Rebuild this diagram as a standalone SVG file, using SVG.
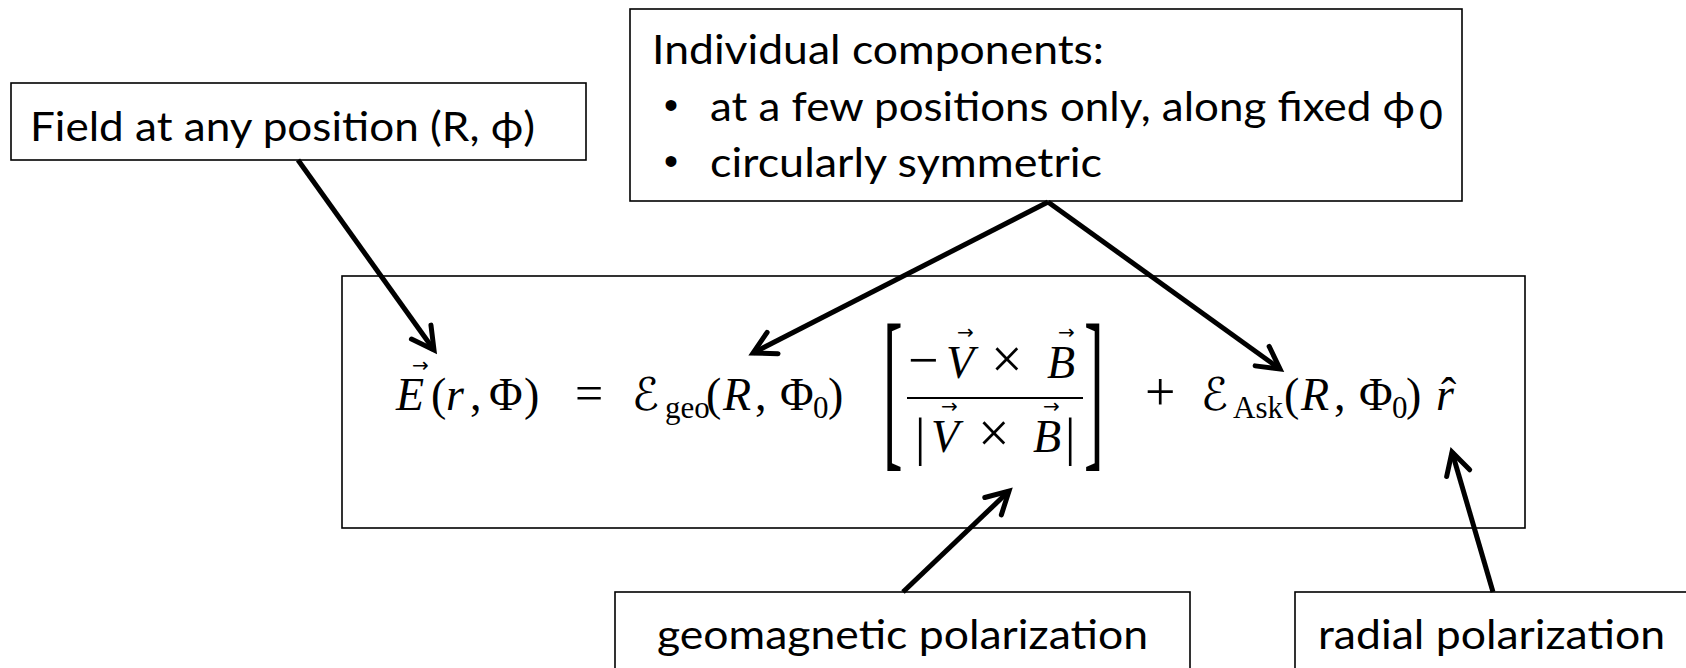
<svg xmlns="http://www.w3.org/2000/svg" width="1686" height="668" viewBox="0 0 1686 668">
<defs>
<marker id="ah" markerUnits="userSpaceOnUse" markerWidth="40" markerHeight="40" viewBox="-30 -20 40 40" refX="0" refY="0" orient="auto">
<path d="M -22 -12 L 0 0 L -22 12" fill="none" stroke="#000" stroke-width="5" stroke-linecap="round" stroke-linejoin="miter"/>
</marker>
<style>
.box{fill:#fff;stroke:#000;stroke-width:1.6}
.lbl{font-family:Lato,"Open Sans","Liberation Sans",sans-serif;font-size:41px;fill:#000}
.bul{font-family:"Liberation Sans",sans-serif;font-size:40px;fill:#000}
.m{font-family:"Liberation Serif","DejaVu Serif",serif;font-size:46px;fill:#000}
.i{font-style:italic}
.sub{font-size:31px}
.cal{font-family:"DejaVu Serif","DejaVu Sans",serif;font-size:45px;font-style:italic;fill:#000}
.vec{font-family:"DejaVu Sans",sans-serif;font-size:20px;fill:#000}
.arr{fill:none;stroke:#000;stroke-width:5;marker-end:url(#ah)}
</style>
</defs>
<rect width="1686" height="668" fill="#fff"/>

<g id="field-box">
<rect class="box" x="11" y="83" width="575" height="77"/>
<text class="lbl" x="30" y="141" textLength="505" lengthAdjust="spacingAndGlyphs">Field at any position (R, ϕ)</text>
</g>

<g id="components-box">
<rect class="box" x="630" y="9" width="832" height="192"/>
<text class="lbl" x="652" y="64" textLength="452" lengthAdjust="spacingAndGlyphs">Individual components:</text>
<text class="bul" x="664" y="119">•</text>
<text class="lbl" x="710" y="121" textLength="705" lengthAdjust="spacingAndGlyphs">at a few positions only, along fixed ϕ</text>
<text class="lbl" x="1419" y="129" font-size="25">0</text>
<text class="bul" x="664" y="175">•</text>
<text class="lbl" x="710" y="177" textLength="392" lengthAdjust="spacingAndGlyphs">circularly symmetric</text>
</g>

<g id="equation-box">
<rect class="box" x="342" y="276" width="1183" height="252"/>
<g class="m">
<text x="396" y="410" class="i">E</text>
<text class="vec" x="412" y="372">→</text>
<text x="431" y="410">(</text>
<text x="446" y="410" class="i">r</text>
<text x="470" y="410">,</text>
<text x="489" y="410">Φ</text>
<text x="524" y="410">)</text>
<text x="575" y="410" font-size="50">=</text>
<text class="cal" x="632" y="410">ℰ</text>
<text x="665" y="418" class="sub">geo</text>
<text x="706" y="410">(</text>
<text x="723" y="410" class="i">R</text>
<text x="755" y="410">,</text>
<text x="780" y="410">Φ</text>
<text x="813" y="418" class="sub">0</text>
<text x="828" y="410">)</text>
<text transform="translate(883,447) scale(1,3)" font-size="59">[</text>
<text x="908" y="378" font-size="54">−</text>
<text x="946" y="378" class="i">V</text>
<text class="vec" x="957" y="339">→</text>
<text x="991" y="378" font-size="56">×</text>
<text x="1047" y="378" class="i">B</text>
<text class="vec" x="1058" y="339">→</text>
<line x1="907" y1="398" x2="1083" y2="398" stroke="#000" stroke-width="2"/>
<text x="915" y="455" font-size="52">|</text>
<text x="931" y="452" class="i">V</text>
<text class="vec" x="941" y="413">→</text>
<text x="978" y="452" font-size="56">×</text>
<text x="1033" y="452" class="i">B</text>
<text class="vec" x="1043" y="413">→</text>
<text x="1065" y="455" font-size="52">|</text>
<text transform="translate(1084,447) scale(1,3)" font-size="59">]</text>
<text x="1145" y="410" font-size="54">+</text>
<text class="cal" x="1201" y="410">ℰ</text>
<text x="1233" y="418" class="sub">Ask</text>
<text x="1284" y="410">(</text>
<text x="1301" y="410" class="i">R</text>
<text x="1334" y="410">,</text>
<text x="1359" y="410">Φ</text>
<text x="1392" y="418" class="sub">0</text>
<text x="1406" y="410">)</text>
<text x="1436" y="410" class="i">r</text>
<text x="1441" y="410">ˆ</text>
</g>
</g>

<g id="geomagnetic-box">
<rect class="box" x="615" y="592" width="575" height="100"/>
<text class="lbl" x="657" y="649" textLength="491" lengthAdjust="spacingAndGlyphs">geomagnetic polarization</text>
</g>

<g id="radial-box">
<rect class="box" x="1295" y="592" width="420" height="100"/>
<text class="lbl" x="1318" y="649" textLength="347" lengthAdjust="spacingAndGlyphs">radial polarization</text>
</g>

<g id="connectors">
<line class="arr" x1="298" y1="160" x2="434" y2="350"/>
<line class="arr" x1="1048" y1="202" x2="753" y2="353"/>
<line class="arr" x1="1048" y1="202" x2="1280" y2="369"/>
<line class="arr" x1="903" y1="592" x2="1009" y2="491"/>
<line class="arr" x1="1493" y1="592" x2="1452" y2="452"/>
</g>
</svg>
